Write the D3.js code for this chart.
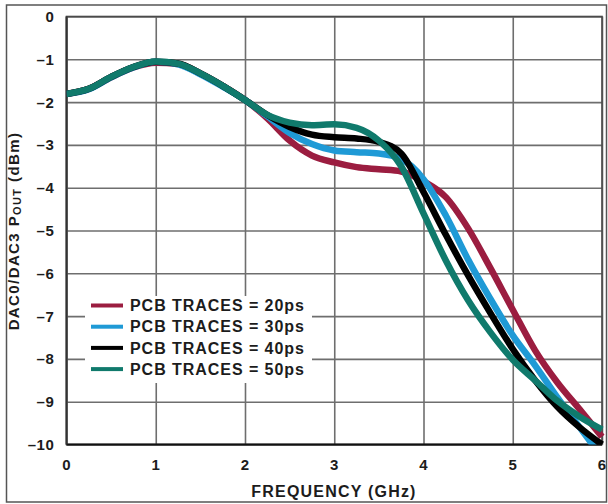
<!DOCTYPE html>
<html>
<head>
<meta charset="utf-8">
<script src="https://cdn.jsdelivr.net/npm/d3@7"></script>
<style>
  html, body { margin: 0; padding: 0; background: #fff; }
  svg { display: block; }
  text { font-family: "Liberation Sans", Arial, Helvetica, sans-serif; fill: #1c1c1c; font-weight: bold; }
</style>
</head>
<body>
<svg id="chart" width="608" height="504"></svg>
<script>
// ---- data ----
const freqGHz = [0,0.25,0.5,0.75,1,1.25,1.5,1.75,2,2.25,2.5,2.75,3,3.25,3.5,3.75,4,4.25,4.5,4.75,5,5.25,5.5,5.75,6];
const seriesNames = ["PCB TRACES = 20ps","PCB TRACES = 30ps","PCB TRACES = 40ps","PCB TRACES = 50ps"];
const trace20ps = [-1.81,-1.69,-1.42,-1.19,-1.08,-1.11,-1.33,-1.62,-1.95,-2.38,-2.90,-3.25,-3.41,-3.52,-3.57,-3.62,-3.85,-4.22,-4.95,-5.88,-6.85,-7.80,-8.55,-9.18,-9.82];
const trace30ps = [-1.81,-1.70,-1.42,-1.19,-1.06,-1.12,-1.35,-1.64,-1.95,-2.33,-2.72,-2.98,-3.13,-3.17,-3.20,-3.33,-3.80,-4.65,-5.68,-6.60,-7.45,-8.15,-8.90,-9.60,-10.30];
const trace40ps = [-1.81,-1.69,-1.41,-1.18,-1.06,-1.10,-1.33,-1.62,-1.95,-2.30,-2.58,-2.76,-2.82,-2.85,-2.93,-3.20,-4.10,-5.10,-6.05,-6.93,-7.77,-8.50,-9.12,-9.60,-10.0];
const trace50ps = [-1.81,-1.69,-1.41,-1.18,-1.05,-1.10,-1.33,-1.62,-1.95,-2.30,-2.48,-2.54,-2.52,-2.60,-2.90,-3.50,-4.60,-5.70,-6.63,-7.38,-8.02,-8.50,-8.98,-9.35,-9.65];
const seriesColors = ["#9b1d40","#1f9ad6","#000000","#107a6c"];
const xTicks = [0,1,2,3,4,5,6];
const xTickLabels = ["0","1","2","3","4","5","6"];
const yTicks = [0,-1,-2,-3,-4,-5,-6,-7,-8,-9,-10];
const yTickLabels = ["0","\u20131","\u20132","\u20133","\u20134","\u20135","\u20136","\u20137","\u20138","\u20139","\u201310"];

const seriesValues = [trace20ps, trace30ps, trace40ps, trace50ps];

// ---- layout ----
const svg = d3.select("#chart");
const L = 66.5, R = 602, T = 16.5, B = 444.5;
const x = d3.scaleLinear().domain([0, 6]).range([L, R]);
const y = d3.scaleLinear().domain([-10, 0]).range([B, T]);

// outer frame
svg.append("rect").attr("x", 6.5).attr("y", 5).attr("width", 600).attr("height", 497)
  .attr("fill", "#fff").attr("stroke", "#555").attr("stroke-width", 1.5);

// grid via axes
const gridColor = "#6e6e6e";
const gx = svg.append("g").attr("transform", `translate(0,${T})`)
  .call(d3.axisBottom(x).tickValues(xTicks).tickSize(B - T).tickFormat(""));
gx.select(".domain").remove();
gx.selectAll("line").attr("stroke", gridColor).attr("stroke-width", 1.6);

const gy = svg.append("g").attr("transform", `translate(${L},0)`)
  .call(d3.axisRight(y).tickValues(yTicks).tickSize(R - L).tickFormat(""));
gy.select(".domain").remove();
gy.selectAll("line").attr("stroke", gridColor).attr("stroke-width", 1.6);

// legend white backing (interrupts grid)
svg.append("rect").attr("x", 85).attr("y", 296).attr("width", 227).attr("height", 87).attr("fill", "#fff");

// plot frame
svg.append("rect").attr("x", L).attr("y", T).attr("width", R - L).attr("height", B - T)
  .attr("fill", "none").attr("stroke", "#4a4a4a").attr("stroke-width", 1.6);
svg.append("line").attr("x1", L).attr("x2", R).attr("y1", B).attr("y2", B)
  .attr("stroke", "#111").attr("stroke-width", 2.2);
svg.append("line").attr("x1", L).attr("x2", L).attr("y1", T).attr("y2", B)
  .attr("stroke", "#333").attr("stroke-width", 2);

// clip
svg.append("clipPath").attr("id", "plotclip").append("rect")
  .attr("x", L).attr("y", T - 5).attr("width", R - L + 4).attr("height", B - T + 5);

const line = d3.line().x(d => x(d[0])).y(d => y(d[1])).curve(d3.curveMonotoneX);
const curves = svg.append("g").attr("clip-path", "url(#plotclip)");
seriesValues.forEach((vals, i) => {
  curves.append("path")
    .datum(freqGHz.map((f, j) => [f, vals[j]]))
    .attr("d", line)
    .attr("fill", "none")
    .attr("stroke", seriesColors[i])
    .attr("stroke-width", 6.5)
    .attr("stroke-linejoin", "round");
});

// tick labels
const tickFont = 15;
svg.append("g").selectAll("text").data(xTicks).join("text")
  .attr("x", d => x(d)).attr("y", 469.5)
  .attr("text-anchor", "middle").attr("font-size", tickFont)
  .text((d, i) => xTickLabels[i]);
svg.append("g").selectAll("text").data(yTicks).join("text")
  .attr("x", 54.5).attr("y", d => y(d) + 5.5)
  .attr("text-anchor", "end").attr("font-size", tickFont)
  .attr("letter-spacing", 0.6)
  .text((d, i) => yTickLabels[i]);

// axis titles
svg.append("text").attr("x", 334).attr("y", 497).attr("text-anchor", "middle")
  .attr("font-size", 16).attr("letter-spacing", 1.2).text("FREQUENCY (GHz)");

const yt = svg.append("text").attr("transform", "translate(18.5,231) rotate(-90)")
  .attr("text-anchor", "middle").attr("font-size", 15).attr("letter-spacing", 1.4);
yt.append("tspan").text("DAC0/DAC3 P");
yt.append("tspan").attr("font-size", 11).attr("dy", 2.5).text("OUT");
yt.append("tspan").attr("dy", -2.5).text(" (dBm)");

// legend
const lg = svg.append("g");
seriesNames.forEach((name, i) => {
  const cy = 305.5 + i * 21.2;
  lg.append("line").attr("x1", 91).attr("x2", 123).attr("y1", cy).attr("y2", cy)
    .attr("stroke", seriesColors[i]).attr("stroke-width", 4);
  lg.append("text").attr("x", 130).attr("y", cy + 5.7)
    .attr("font-size", 16).attr("letter-spacing", 0.95).text(name);
});
</script>
</body>
</html>
